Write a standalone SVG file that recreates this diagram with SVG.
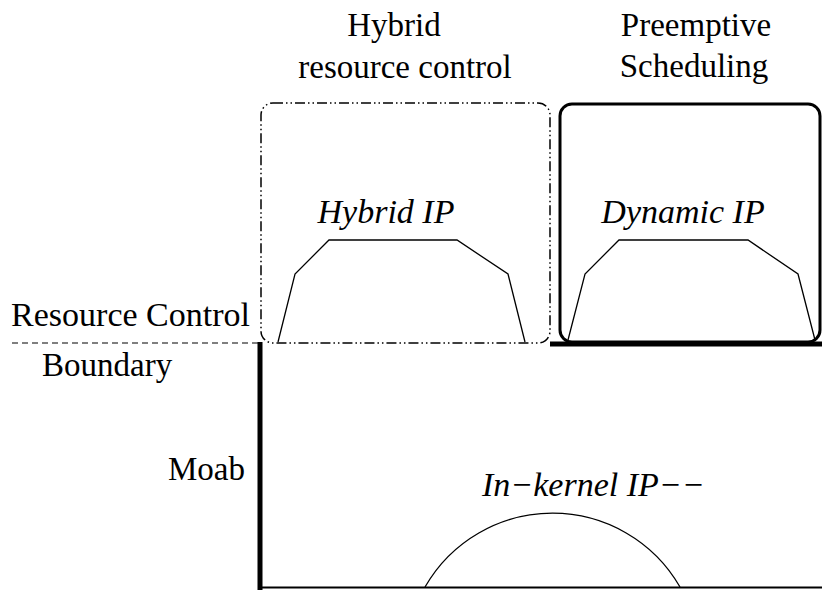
<svg xmlns="http://www.w3.org/2000/svg" width="822" height="590" viewBox="0 0 822 590">
<style>
text{font-family:"Liberation Serif","Times New Roman",serif;font-size:33px;fill:#000}
.it{font-style:italic;font-size:34px}
.shape{fill:none;stroke:#000;stroke-width:1.3}
</style>
<rect width="822" height="590" fill="#fff"/>
<g id="labels">
<text x="394" y="36" text-anchor="middle">Hybrid</text>
<text x="405" y="78" text-anchor="middle">resource control</text>
<text x="696" y="36" text-anchor="middle">Preemptive</text>
<text x="694" y="77" text-anchor="middle">Scheduling</text>
<text x="250" y="326" text-anchor="end" style="font-size:34px">Resource Control</text>
<text x="42" y="376">Boundary</text>
<text x="245" y="480" text-anchor="end">Moab</text>
</g>
<g id="boundary">
<line x1="12" y1="343" x2="262" y2="343" stroke="#000" stroke-width="1.2" stroke-dasharray="6 4"/>
</g>
<g id="hybrid">
<rect x="261" y="103" width="289" height="240" rx="12" fill="none" stroke="#000" stroke-width="1.5" stroke-dasharray="10 3 1.5 3 1.5 3"/>
<polyline class="shape" points="278,342 295,274 329,240 457,240 508,274 525,342"/>
<text class="it" x="386" y="223" text-anchor="middle">Hybrid IP</text>
</g>
<g id="dynamic">
<rect x="560" y="104" width="260" height="238" rx="12" fill="none" stroke="#000" stroke-width="3"/>
<polyline class="shape" points="568,340 585,274 619,240 748,240 798,274 815,340"/>
<text class="it" x="683" y="223" text-anchor="middle">Dynamic IP</text>
</g>
<g id="moab">
<line x1="550" y1="344" x2="822" y2="344" stroke="#000" stroke-width="5"/>
<line x1="260" y1="342" x2="260" y2="590" stroke="#000" stroke-width="5"/>
<line x1="258" y1="587.5" x2="822" y2="587.5" stroke="#000" stroke-width="2"/>
<path class="shape" d="M425,587 A147,147 0 0 1 680,587"/>
<text class="it" x="482" y="496">In−kernel IP−−</text>
</g>
</svg>
